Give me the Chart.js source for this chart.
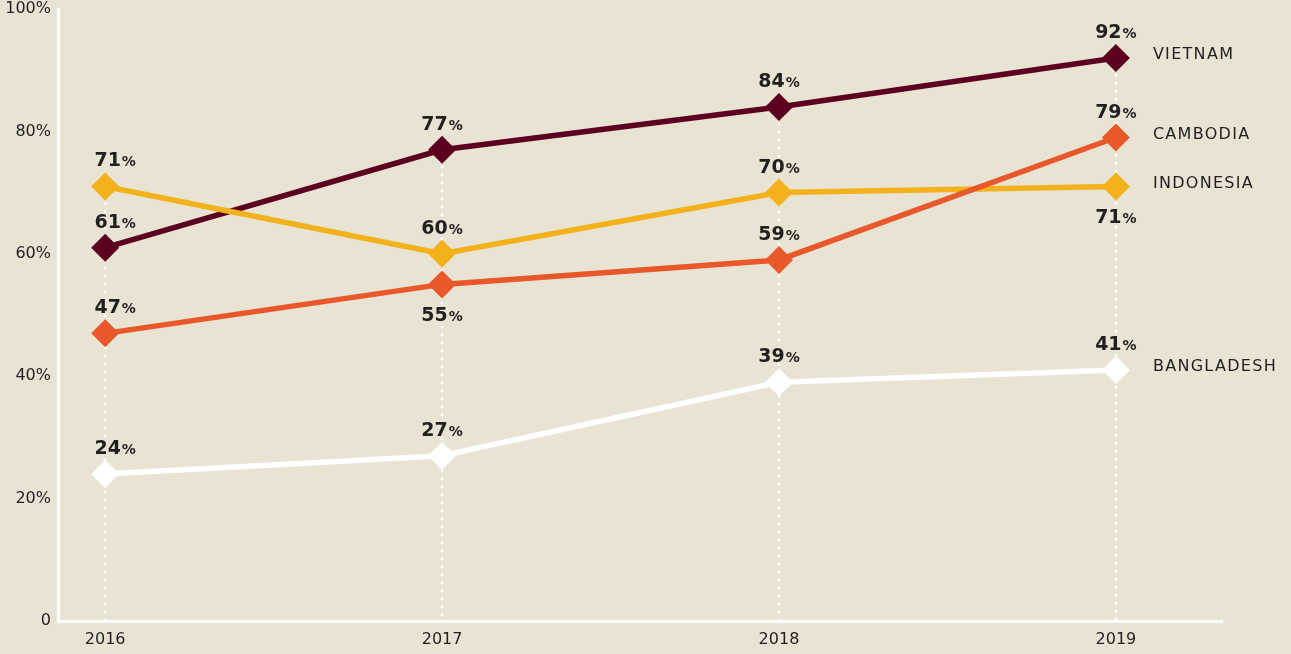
<!DOCTYPE html>
<html>
<head>
<meta charset="utf-8">
<script src="https://cdn.jsdelivr.net/npm/chart.js@4/dist/chart.umd.min.js"></script>
<style>
  html, body { margin: 0; padding: 0; background: #e8e3d2; }
  #wrap { width: 1291px; height: 654px; }
</style>
</head>
<body>
<div id="wrap"><canvas id="chart" width="1291" height="654"></canvas></div>
<script>
// Share of respondents per country, 2016-2019.
const years = [2016, 2017, 2018, 2019];
const yTicks = [0, 20, 40, 60, 80, 100];

const seriesNames = ["VIETNAM", "CAMBODIA", "INDONESIA", "BANGLADESH"];
const vietnam = [61, 77, 84, 92];
const cambodia = [47, 55, 59, 79];
const indonesia = [71, 60, 70, 71];
const bangladesh = [24, 27, 39, 41];

// which side of the marker each value label sits on
const cambodiaLabelSide = ["up", "down", "up", "up"];
const indonesiaLabelSide = ["up", "up", "up", "down"];

const INK = "#231f1f";
const FONT = "'DejaVu Sans', sans-serif";

function pts(vals) {
  return vals.map((v, i) => ({ x: years[i], y: v }));
}

function series(name, vals, color, order, sides) {
  return {
    label: name,
    data: pts(vals),
    borderColor: color,
    backgroundColor: color,
    pointBackgroundColor: color,
    pointBorderWidth: 0,
    pointStyle: "rectRot",
    pointRadius: 14,
    pointHoverRadius: 14,
    borderWidth: 5.5,
    tension: 0,
    order,
    clip: false,
    labelSides: sides || vals.map(() => "up"),
  };
}

// dotted white guide from the top marker of each year down to the axis
const guideLines = {
  id: "guideLines",
  beforeDatasetsDraw(chart) {
    const { ctx, scales } = chart;
    const bottom = chart.chartArea.bottom;
    ctx.save();
    ctx.strokeStyle = "#ffffff";
    ctx.lineWidth = 2.5;
    ctx.setLineDash([2.5, 5.5]);
    years.forEach((yr, i) => {
      const top = Math.max(vietnam[i], cambodia[i], indonesia[i], bangladesh[i]);
      const x = Math.round(scales.x.getPixelForValue(yr));
      ctx.beginPath();
      ctx.moveTo(x, scales.y.getPixelForValue(top));
      ctx.lineTo(x, bottom);
      ctx.stroke();
    });
    ctx.restore();
  },
};

// bold value labels ("71%") and series names at the right end
const valueLabels = {
  id: "valueLabels",
  afterDatasetsDraw(chart) {
    const { ctx } = chart;
    ctx.save();
    ctx.fillStyle = INK;
    chart.data.datasets.forEach((ds, di) => {
      const meta = chart.getDatasetMeta(di);
      ctx.textBaseline = "alphabetic";
      ctx.textAlign = "left";
      meta.data.forEach((pt, i) => {
        const num = String(ds.data[i].y);
        ctx.font = "bold 19px " + FONT;
        const wNum = ctx.measureText(num).width;
        ctx.font = "bold 14px " + FONT;
        const wPct = ctx.measureText("%").width;
        const total = wNum + wPct + 1;
        const cx = pt.x + (i === 0 ? 10 : 0);
        const y = ds.labelSides[i] === "up" ? pt.y - 20 : pt.y + 37;
        const x0 = cx - total / 2;
        ctx.font = "bold 19px " + FONT;
        ctx.fillText(num, x0, y);
        ctx.font = "bold 14px " + FONT;
        ctx.fillText("%", x0 + wNum + 1, y);
      });
      const last = meta.data[meta.data.length - 1];
      ctx.font = "16px " + FONT;
      ctx.letterSpacing = "1.3px";
      ctx.textBaseline = "middle";
      ctx.fillText(ds.label, last.x + 37, last.y - 3);
      ctx.letterSpacing = "0px";
    });
    ctx.restore();
  },
};

new Chart(document.getElementById("chart").getContext("2d"), {
  type: "line",
  data: {
    datasets: [
      series(seriesNames[0], vietnam, "#5c0020", 2),
      series(seriesNames[1], cambodia, "#e8582a", 0, cambodiaLabelSide),
      series(seriesNames[2], indonesia, "#f3b11b", 1, indonesiaLabelSide),
      series(seriesNames[3], bangladesh, "#ffffff", 3),
    ],
  },
  options: {
    responsive: false,
    animation: false,
    events: [],
    layout: { autoPadding: false, padding: { top: 9, right: 69, left: 0, bottom: 0 } },
    plugins: { legend: { display: false }, tooltip: { enabled: false } },
    scales: {
      x: {
        type: "linear",
        min: 2015.86,
        max: 2019.315,
        afterBuildTicks: (s) => { s.ticks = years.map((v) => ({ value: v })); },
        afterFit: (s) => { s.height = 33; },
        grid: { display: false, drawTicks: false },
        border: { display: true, color: "#ffffff", width: 3 },
        ticks: {
          color: INK,
          padding: 9,
          font: { family: FONT, size: 16 },
          callback: (v) => String(v),
        },
      },
      y: {
        min: 0,
        max: 100,
        afterBuildTicks: (s) => { s.ticks = yTicks.map((v) => ({ value: v })); },
        afterFit: (s) => { s.width = 58; s.paddingTop = 0; s.paddingBottom = 0; },
        grid: { display: false, drawTicks: false },
        border: { display: true, color: "#ffffff", width: 3 },
        ticks: {
          color: INK,
          padding: 7,
          font: { family: FONT, size: 16 },
          callback: (v) => (v === 0 ? "0" : v + "%"),
        },
      },
    },
  },
  plugins: [guideLines, valueLabels],
});
</script>
</body>
</html>
